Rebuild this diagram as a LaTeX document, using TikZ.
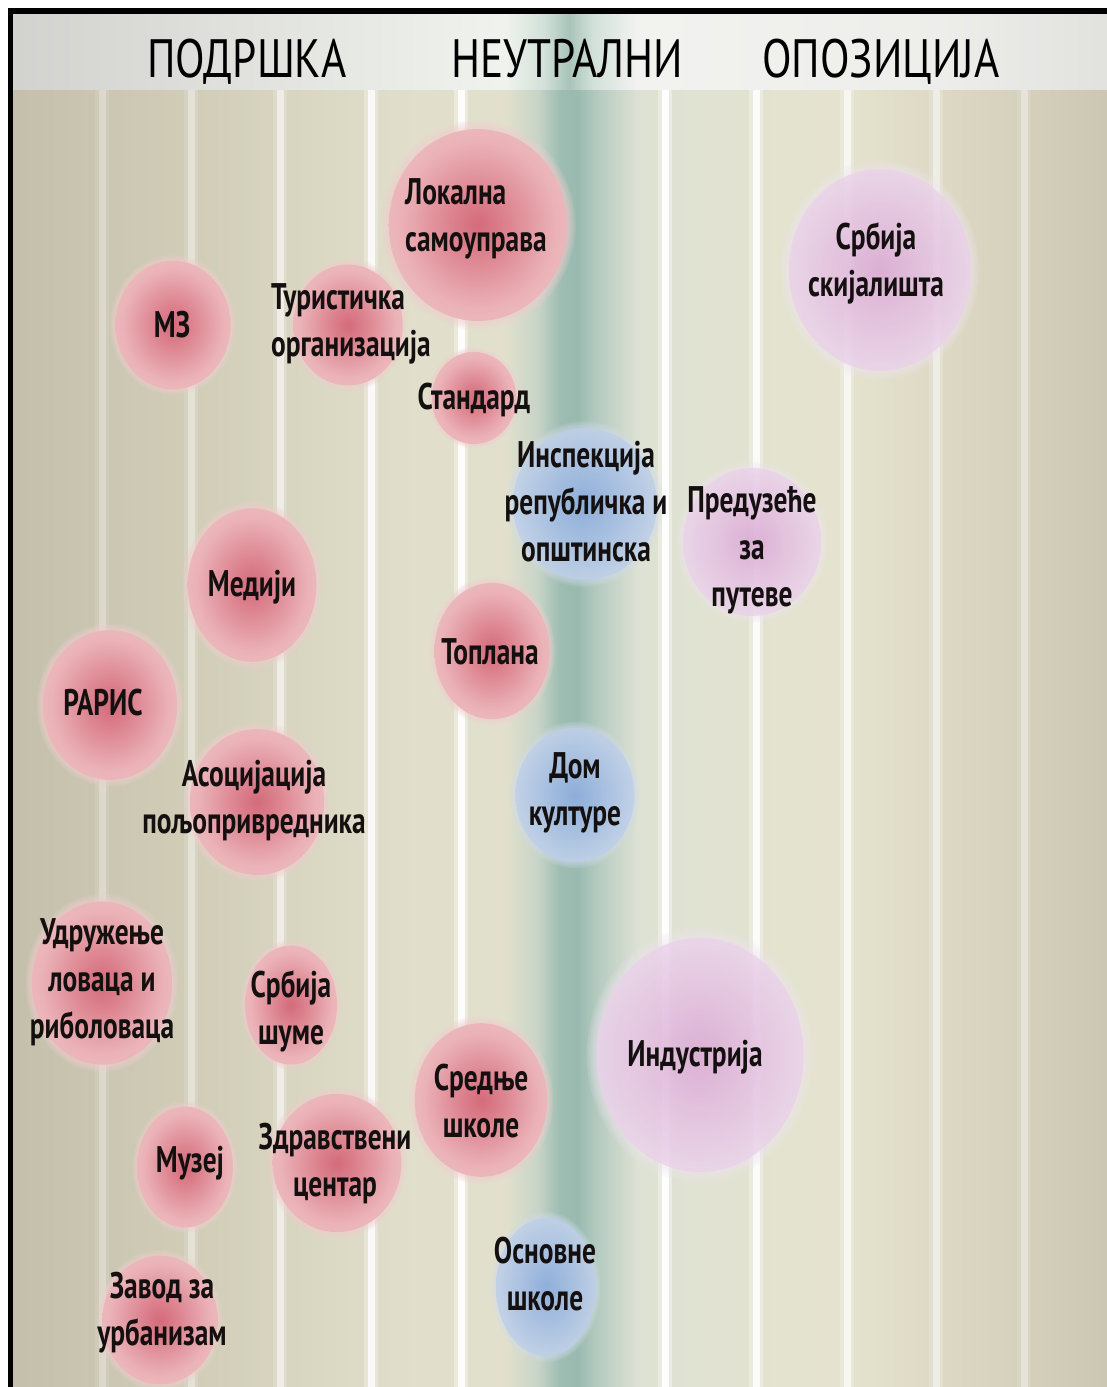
\documentclass[tikz,border=0pt]{standalone}
\usepackage{fontspec}
\newfontfamily\hdrfont[FakeStretch=0.8]{PT Sans}
\newfontfamily\lblfont[FakeStretch=0.74]{PT Sans}
\definecolor{rededge}{RGB}{240,206,206}
\definecolor{blueedge}{RGB}{210,220,236}
\definecolor{purpleedge}{RGB}{240,230,240}
\definecolor{labelink}{RGB}{20,16,16}
\pgfdeclarehorizontalshading{bgshade}{100bp}{%
 rgb(0bp)=(0.63,0.60,0.55);
 rgb(8bp)=(0.67,0.645,0.59);
 rgb(21.7bp)=(0.75,0.73,0.655);
 rgb(33.5bp)=(0.82,0.805,0.72);
 rgb(42.7bp)=(0.88,0.87,0.795);
 rgb(47.5bp)=(0.885,0.88,0.805);
 rgb(49.0bp)=(0.78,0.83,0.78);
 rgb(50.0bp)=(0.62,0.74,0.70);
 rgb(50.8bp)=(0.60,0.73,0.69);
 rgb(51.8bp)=(0.72,0.80,0.76);
 rgb(53.6bp)=(0.87,0.885,0.83);
 rgb(62.8bp)=(0.90,0.89,0.81);
 rgb(71.9bp)=(0.83,0.81,0.73);
 rgb(81.1bp)=(0.74,0.72,0.64);
 rgb(90.2bp)=(0.67,0.65,0.58);
 rgb(100bp)=(0.61,0.59,0.52)}
\pgfdeclarehorizontalshading{hdrshade}{100bp}{%
 rgb(0bp)=(0.71,0.69,0.68);
 rgb(17.1bp)=(0.78,0.78,0.77);
 rgb(35.4bp)=(0.88,0.885,0.87);
 rgb(47.5bp)=(0.94,0.95,0.93);
 rgb(49.3bp)=(0.82,0.88,0.85);
 rgb(50.4bp)=(0.66,0.77,0.73);
 rgb(51.5bp)=(0.82,0.88,0.85);
 rgb(53.5bp)=(0.95,0.95,0.94);
 rgb(67.4bp)=(0.93,0.93,0.92);
 rgb(85.6bp)=(0.82,0.82,0.81);
 rgb(100bp)=(0.73,0.73,0.73)}
\pgfdeclareradialshading{redball}{\pgfpoint{0bp}{0bp}}{%
 rgb(0bp)=(0.83,0.42,0.48);
 rgb(7bp)=(0.86,0.50,0.55);
 rgb(22bp)=(0.92,0.70,0.72);
 rgb(38bp)=(0.94,0.79,0.79);
 rgb(50bp)=(0.945,0.82,0.82)}
\pgfdeclareradialshading{blueball}{\pgfpoint{0bp}{0bp}}{%
 rgb(0bp)=(0.53,0.66,0.86);
 rgb(9bp)=(0.61,0.72,0.88);
 rgb(24bp)=(0.74,0.81,0.91);
 rgb(40bp)=(0.81,0.86,0.93);
 rgb(50bp)=(0.83,0.87,0.93)}
\pgfdeclareradialshading{purpleball}{\pgfpoint{0bp}{0bp}}{%
 rgb(0bp)=(0.85,0.64,0.82);
 rgb(10bp)=(0.88,0.72,0.86);
 rgb(26bp)=(0.92,0.83,0.92);
 rgb(42bp)=(0.94,0.89,0.94);
 rgb(50bp)=(0.95,0.91,0.95)}
\newcommand\orb[6]{%
 \foreach \k in {1,...,4}{%
  \fill[#1edge, opacity=0.2*#6] (#2,#3) ellipse [x radius={#4*(0.96+0.022*\k)}, y radius={#5*(0.96+0.022*\k)}];}
 \shade[shading=#1ball, opacity=#6] (#2,#3) ellipse [x radius={#4*0.96}, y radius={#5*0.96}];}
\tikzset{
 hdr/.style={font=\hdrfont\fontsize{54}{60}\selectfont, inner sep=0pt, text=black, anchor=base},
 lbl/.style={font=\lblfont\bfseries\fontsize{37}{47}\selectfont, align=center, inner sep=0pt, text=labelink},
 lbll/.style={lbl, align=left, anchor=west}
}
\begin{document}
\begin{tikzpicture}[x=1pt,y=-1pt]
\useasboundingbox (0,0) rectangle (1107,1387);
\fill[white] (0,0) rectangle (1107,1387);
% background with stripes
\shade[shading=bgshade] (13,14) rectangle (1107,1387);
\foreach \xx/\oa/\ob in {102/0.10/0.28, 191/0.12/0.36, 280/0.18/0.52, 371/0.28/0.8, 461/0.35/0.95, 665/0.35/0.95, 756/0.3/0.85, 847/0.22/0.65, 936/0.16/0.48, 1024/0.12/0.35}{
  \fill[white, opacity=\oa] (\xx-7,88) rectangle (\xx+7,1387);
  \fill[white, opacity=\ob] (\xx-3.5,88) rectangle (\xx+3.5,1387);
}
% header band
\shade[shading=hdrshade] (13,14) rectangle (1107,89);
% frame
\fill[black] (8,8) rectangle (1107,14);
\fill[black] (8,8) rectangle (13,1387);
% bubbles
\orb{red}{478}{225}{93}{100}{1}
\orb{purple}{880}{270}{95}{105}{0.8}
\orb{red}{173}{325}{60}{67}{1}
\orb{red}{348}{325}{57}{63}{1}
\orb{red}{474}{398}{44}{48}{1}
\orb{blue}{585}{504}{75}{79}{0.85}
\orb{purple}{752}{542}{72}{77}{0.8}
\orb{red}{252}{585}{67}{80}{1}
\orb{red}{492}{651}{60}{71}{1}
\orb{red}{110}{705}{70}{78}{1}
\orb{red}{257}{802}{70}{76}{1}
\orb{blue}{575}{795}{62}{70}{0.85}
\orb{red}{102}{983}{73}{85}{1}
\orb{red}{291}{1005}{48}{62}{1}
\orb{purple}{700}{1055}{108}{122}{0.8}
\orb{red}{481}{1100}{69}{80}{1}
\orb{red}{185}{1167}{50}{63}{1}
\orb{red}{337}{1163}{67}{72}{1}
\orb{blue}{546}{1287}{52}{72}{0.85}
\orb{red}{160}{1320}{60}{67}{1}
% header labels
\node[hdr] (podrska) at (247,77) {ПОДРШКА};
\node[hdr] (neutralni) at (567,77) {НЕУТРАЛНИ};
\node[hdr] (opozicija) at (881,77) {ОПОЗИЦИЈА};
% bubble labels
\node[lbll] (lokalna) at (405,219) {Локална\\самоуправа};
\node[lbl] (skijalista) at (876,263) {Србија\\скијалишта};
\node[lbl] (mz) at (172,325) {МЗ};
\node[lbll] (turisticka) at (271,324) {Туристичка\\организација};
\node[lbl] (standard) at (474,400) {Стандард};
\node[lbl] (inspekcija) at (586,502) {Инспекција\\републичка и\\општинска};
\node[lbl] (preduzece) at (752,550) {Предузеће\\за\\путеве};
\node[lbl] (mediji) at (252,587) {Медији};
\node[lbl] (toplana) at (490,652) {Топлана};
\node[lbl] (raris) at (103,703) {РАРИС};
\node[lbl] (asocijacija) at (254,801) {Асоцијација\\пољопривредника};
\node[lbl] (dom) at (575,793) {Дом\\културе};
\node[lbl] (udruzenje) at (102,982) {Удружење\\ловаца и\\риболоваца};
\node[lbl] (sume) at (291,1011) {Србија\\шуме};
\node[lbl] (industrija) at (695,1057) {Индустрија};
\node[lbl] (srednje) at (481,1101) {Средње\\школе};
\node[lbl] (muzej) at (190,1163) {Музеј};
\node[lbl] (zdravstveni) at (335,1164) {Здравствени\\центар};
\node[lbl] (osnovne) at (545,1274) {Основне\\школе};
\node[lbl] (zavod) at (162,1313) {Завод за\\урбанизам};
\end{tikzpicture}
\end{document}
